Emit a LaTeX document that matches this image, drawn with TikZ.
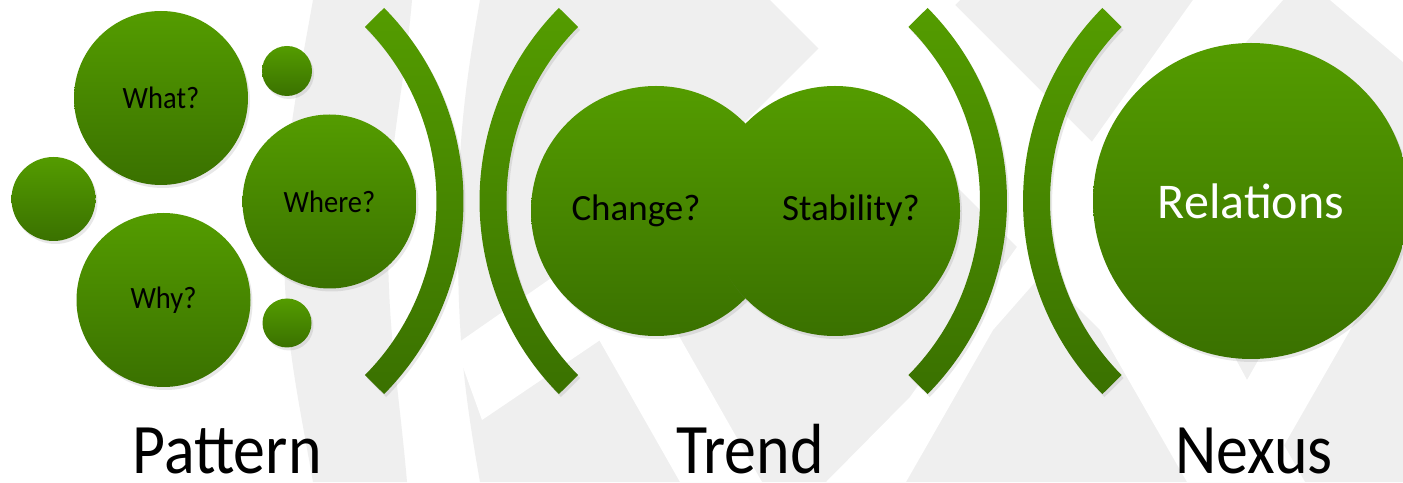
\documentclass[tikz,border=0pt]{standalone}
\usepackage{fontspec}
\setmainfont{Carlito}
\newfontfamily\labelfont{Carlito}[FakeStretch = 0.9]
\newfontfamily\askfont{Carlito}[FakeStretch = 0.92]
\usetikzlibrary{shadows}
\definecolor{leaftop}{RGB}{84, 156, 0}
\definecolor{leafbot}{RGB}{58, 113, 0}
\definecolor{mist}{RGB}{239, 239, 239}
\tikzstyle{backdrop} = [fill = mist]
\tikzstyle{gap} = [fill = white]
\tikzstyle{bubble} = [
  circle, inner sep = 0, text = black,
  top color = leaftop, bottom color = leafbot,
  drop shadow = {shadow xshift = 2pt, shadow yshift = -3pt, opacity = 0.18}
]
\tikzstyle{bracket} = [
  top color = leaftop, bottom color = leafbot,
  drop shadow = {shadow xshift = 2pt, shadow yshift = -3pt, opacity = 0.18}
]
\tikzstyle{ask} = [font = \askfont\fontsize{31}{31}\selectfont]
\tikzstyle{query} = [font = \fontsize{37}{37}\selectfont]
\tikzstyle{title} = [anchor = base, inner sep = 0, text depth = 0pt,
  font = \labelfont\fontsize{71}{71}\selectfont]

\begin{document}
\begin{tikzpicture}[x = 1pt, y = 1pt]
    \useasboundingbox (0, 0) rectangle (1403, 482);
    \fill [white] (0, 0) rectangle (1403, 482);
    \path [backdrop] (313, 482) to [out = -100, in = 90] (284, 241) to [out = -90, in = 100] (313, 0)
      -- (407, 0) to [out = 95, in = -90] (388, 241) to [out = 90, in = -95] (412, 482) -- cycle;
    \path [backdrop] (480, 482) to [out = -100, in = 90] (458, 241) to [out = -90, in = 100] (480, 0)
      -- (1403, 0) -- (1403, 482) -- cycle;
    \path [gap] (770, 482) -- (950, 482) -- (1150, 282) -- (1247, 102) -- (1305, 0) -- (1187, 0) -- (1100, 152) -- cycle;
    \path [gap] (1193, 482) -- (1283, 482) -- (993, 152) -- (906, 0) -- (826, 0) -- (910, 85) -- cycle;
    \path [gap] (867, 482) -- (960, 482) -- (690, 212) -- (597, 212) -- cycle;
    \path [gap] (548, 232) -- (630, 232) -- (762, 0) -- (680, 0) -- cycle;
    \path [gap] (455, 137) -- (482, 62) -- (615, 152) -- (570, 217) -- cycle;
    \path [gap] (1321, 232) -- (1396, 232) -- (1263, 0) -- (1189, 0) -- cycle;
    \path [gap] (1330, 482) -- (1403, 482) -- (1403, 420) -- cycle;

    \shade [bracket, shift = {(189, 281)}] (-44.7 : 274.5) arc [start angle = -44.7, end angle = 44.7, radius = 274.5]
      -- (44.7 : 247.5) arc [start angle = 44.7, end angle = -44.7, radius = 247.5] -- cycle;
    \shade [bracket, shift = {(754, 281)}] (135.3 : 247.5) arc [start angle = 135.3, end angle = 224.7, radius = 247.5]
      -- (224.7 : 274.5) arc [start angle = 224.7, end angle = 135.3, radius = 274.5] -- cycle;
    \shade [bracket, shift = {(732.5, 281)}] (-44.7 : 274.5) arc [start angle = -44.7, end angle = 44.7, radius = 274.5]
      -- (44.7 : 247.5) arc [start angle = 44.7, end angle = -44.7, radius = 247.5] -- cycle;
    \shade [bracket, shift = {(1297.5, 281)}] (135.3 : 247.5) arc [start angle = 135.3, end angle = 224.7, radius = 247.5]
      -- (224.7 : 274.5) arc [start angle = 224.7, end angle = 135.3, radius = 274.5] -- cycle;

    \node [bubble, ask, minimum size = 174pt] (what) at (161, 384) {What?};
    \node [bubble, minimum size = 50pt] (dot-1) at (287, 411) {};
    \node [bubble, minimum size = 84pt] (dot-2) at (53.5, 283) {};
    \node [bubble, ask, minimum size = 174pt] (where) at (329.5, 280.5) {Where?};
    \node [bubble, ask, minimum size = 174pt] (why) at (163.5, 182) {Why?};
    \node [bubble, minimum size = 49pt] (dot-3) at (287, 159) {};

    \node [bubble, minimum size = 250pt] (change) at (656, 271) {};
    \node [bubble, minimum size = 250pt] (stability) at (835, 271) {};
    \node [query, xshift = -20pt] (change-t) at (change) {Change?};
    \node [query, xshift = 16pt] (stability-t) at (stability) {Stability?};

    \node [bubble, minimum size = 316pt, text = white, font = \fontsize{50}{50}\selectfont] (relations) at (1251, 281) {Relations};

    \node [title] (pattern) at (227, 9) {Pattern};
    \node [title] (trend) at (750, 9) {Trend};
    \node [title] (nexus) at (1254, 9) {Nexus};
\end{tikzpicture}
\end{document}
